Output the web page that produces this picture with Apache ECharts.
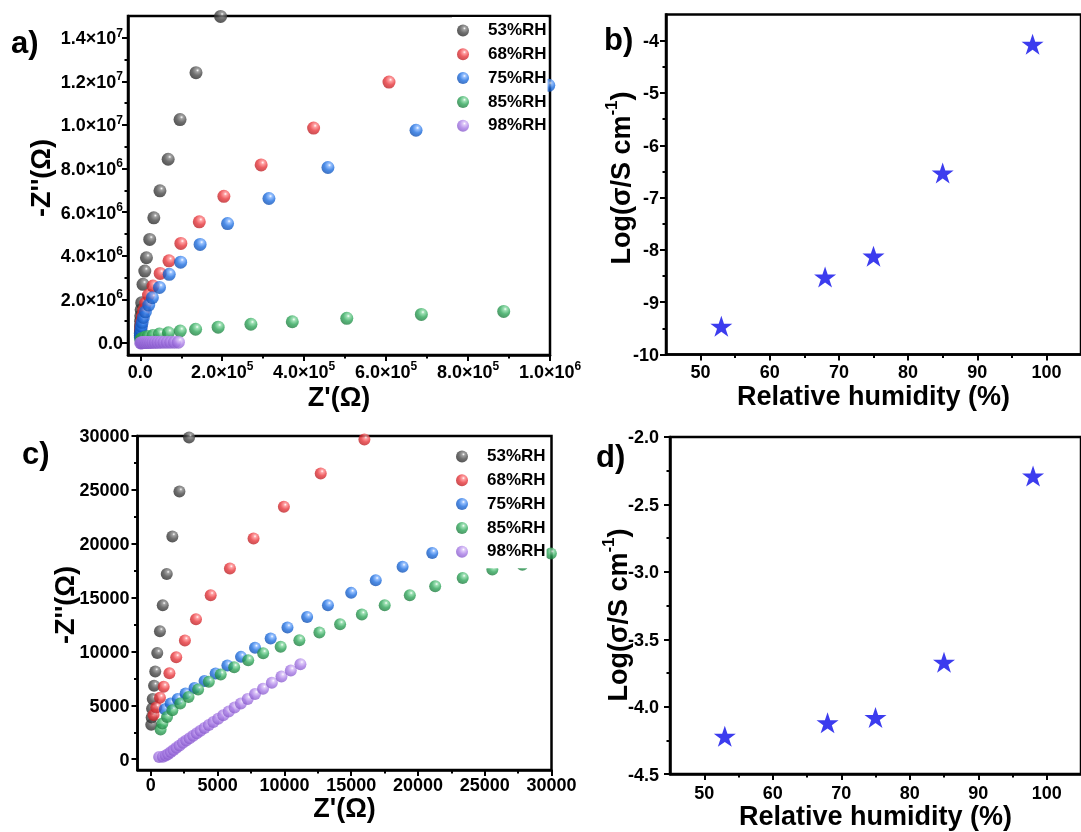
<!DOCTYPE html>
<html>
<head>
<meta charset="utf-8">
<script src="https://cdn.jsdelivr.net/npm/echarts@6.0.0/dist/echarts.min.js"></script>
<style>
  html, body { margin: 0; padding: 0; background: #ffffff; }
  #chart { width: 1081px; height: 832px; }
</style>
</head>
<body>
<div id="chart"></div>
<script>
// ---------- series names ----------
const rhNames = ['53%RH', '68%RH', '75%RH', '85%RH', '98%RH'];

// ---------- panel a: full Nyquist plots (Z', -Z'' in ohm) ----------
const a53X = [100, 200, 300, 500, 800, 1200, 2000, 3500, 6600, 11000, 15000, 23000, 33000, 48000, 68000, 97000, 136000, 196000];
const a53Y = [330000, 450000, 600000, 780000, 1000000, 1250000, 1520000, 1850000, 2690000, 3300000, 3910000, 4750000, 5740000, 6980000, 8430000, 10250000, 12400000, 14980000];

const a68X = [1000, 1800, 3000, 5000, 8000, 13000, 20000, 31000, 48500, 70000, 99000, 144000, 204000, 295000, 423000, 607000];
const a68Y = [590000, 770000, 980000, 1220000, 1500000, 1830000, 2200000, 2610000, 3190000, 3770000, 4570000, 5560000, 6730000, 8170000, 9860000, 11970000];

const a75X = [300, 500, 900, 1500, 2600, 4500, 7500, 12500, 20600, 29400, 46800, 70600, 98500, 146000, 213000, 314000, 458000, 673000, 997000];
const a75Y = [250000, 350000, 470000, 610000, 770000, 950000, 1170000, 1430000, 1740000, 2080000, 2550000, 3150000, 3710000, 4520000, 5480000, 6630000, 8050000, 9760000, 11820000];

const a85X = [1500, 3000, 6000, 11000, 19000, 31000, 46800, 68600, 97500, 135000, 190000, 270000, 371000, 504000, 686000, 887000];
const a85Y = [140000, 180000, 220000, 260000, 300000, 340000, 410000, 470000, 550000, 630000, 725000, 860000, 976000, 1130000, 1310000, 1450000];

const a98X = [1000, 3000, 5500, 8500, 12000, 16000, 20500, 25500, 31000, 37000, 43500, 50500, 58000, 66000, 74500, 83500, 93000];
const a98Y = [5000, 10000, 14000, 18000, 21000, 24000, 26000, 28000, 30000, 32000, 33000, 34000, 35000, 36000, 37000, 38000, 39000];

// ---------- panel c: high-frequency region (Z', -Z'' in ohm) ----------
const c53X = [30, 60, 90, 140, 240, 330, 480, 680, 890, 1190, 1610, 2140, 2860];
const c53Y = [3200, 3880, 4680, 5600, 6820, 8150, 9850, 11880, 14290, 17190, 20680, 24850, 29850];

const c68X = [200, 400, 680, 960, 1390, 1900, 2550, 3380, 4480, 5920, 7690, 9960, 12720, 15990];
const c68Y = [4100, 4800, 5700, 6720, 7970, 9460, 11030, 13000, 15230, 17710, 20490, 23430, 26530, 29680];

const c75X = [1050, 1480, 2010, 2600, 3270, 4020, 4850, 5730, 6750, 7800, 8970, 10230, 11700, 13260, 15000, 16840, 18850, 21070];
const c75Y = [4640, 5170, 5600, 6100, 6620, 7270, 7960, 8700, 9500, 10340, 11200, 12230, 13210, 14300, 15440, 16620, 17860, 19150];

const c85X = [730, 860, 1210, 1610, 2200, 2820, 3540, 4340, 5230, 6240, 7290, 8410, 9720, 11120, 12620, 14170, 15800, 17510, 19390, 21290, 23350, 25570, 27820, 29950];
const c85Y = [2760, 3310, 3930, 4550, 5170, 5780, 6470, 7180, 7860, 8540, 9190, 9840, 10430, 11050, 11760, 12530, 13430, 14300, 15230, 16060, 16830, 17610, 18050, 19100];

const c98X = [620, 900, 1120, 1300, 1500, 1700, 1920, 2150, 2400, 2650, 2900, 3170, 3440, 3720, 4020, 4340, 4680, 5040, 5420, 5830, 6270, 6740, 7250, 7800, 8400, 9060, 9780, 10480, 11200];
const c98Y = [200, 220, 340, 490, 670, 850, 1060, 1280, 1520, 1740, 1950, 2180, 2410, 2650, 2900, 3170, 3450, 3760, 4080, 4420, 4790, 5180, 5600, 6050, 6550, 7090, 7680, 8240, 8820];

// ---------- panels b and d: conductivity vs relative humidity ----------
const humidity = [53, 68, 75, 85, 98];
const logSigmaB = [-9.46, -8.52, -8.12, -6.53, -4.07];
const logSigmaD = [-4.22, -4.12, -4.08, -3.67, -2.29];

// ---------- tick values ----------
const aXMajor = [0, 200000, 400000, 600000, 800000, 1000000];
const aXMinor = [100000, 300000, 500000, 700000, 900000];
const aYMajor = [0, 2000000, 4000000, 6000000, 8000000, 10000000, 12000000, 14000000];
const aYMinor = [1000000, 3000000, 5000000, 7000000, 9000000, 11000000, 13000000];
const rhMajor = [50, 60, 70, 80, 90, 100];
const rhMinor = [55, 65, 75, 85, 95];
const bYMajor = [-10, -9, -8, -7, -6, -5, -4];
const bYMinor = [-9.5, -8.5, -7.5, -6.5, -5.5, -4.5];
const cMajor = [0, 5000, 10000, 15000, 20000, 25000, 30000];
const cMinor = [2500, 7500, 12500, 17500, 22500, 27500];
const dYMajor = [-4.5, -4.0, -3.5, -3.0, -2.5, -2.0];
const dYMinor = [-4.25, -3.75, -3.25, -2.75, -2.25];

// ---------- styling helpers ----------
const FONT = '"Liberation Sans", Arial, Helvetica, sans-serif';

function sphere(light, base, dark) {
  return {
    type: 'radial', x: 0.62, y: 0.32, r: 0.78,
    colorStops: [
      { offset: 0, color: '#ffffff' },
      { offset: 0.16, color: light },
      { offset: 0.5, color: base },
      { offset: 1, color: dark }
    ]
  };
}
const sphereColors = [
  sphere('#8a8a8a', '#4a4a4a', '#222222'),
  sphere('#ff8a8d', '#e8363b', '#b01c21'),
  sphere('#7fb2ff', '#1f6fe0', '#0b47a6'),
  sphere('#86d9a2', '#2fa65a', '#1b7339'),
  sphere('#d6bdf6', '#a97de6', '#7f52c4')
];

const tickRich = {
  m: { fontFamily: FONT, fontWeight: 'bold', fontSize: 18, color: '#000', lineHeight: 21, verticalAlign: 'bottom' },
  e: { fontFamily: FONT, fontWeight: 'bold', fontSize: 12, color: '#000', lineHeight: 21, verticalAlign: 'top' }
};

function sciLabel(v) {
  if (v === 0) return '{m|0.0}';
  const e = Math.floor(Math.log10(v) + 1e-9);
  const m = v / Math.pow(10, e);
  return '{m|' + m.toFixed(1) + '×10}{e|' + e + '}';
}

function axisPair(gridIndex, dim, min, max, majors, minors, formatter, margin, name, nameGap) {
  const position = dim === 'x' ? 'bottom' : 'left';
  const major = {
    type: 'value', gridIndex, min, max, position,
    splitLine: { show: false },
    axisLine: { show: true, onZero: false, lineStyle: { color: '#000', width: 2.5 } },
    axisTick: { show: true, inside: false, length: 6, lineStyle: { color: '#000', width: 2 }, customValues: majors },
    axisLabel: {
      show: true, customValues: majors, margin, formatter,
      color: '#000', fontFamily: FONT, fontWeight: 'bold', fontSize: 18, rich: tickRich
    }
  };
  if (name) {
    Object.assign(major, {
      name, nameLocation: 'middle', nameGap,
      nameTextStyle: { fontFamily: FONT, fontWeight: 'bold', fontSize: 27, color: '#000' }
    });
  }
  const minor = {
    type: 'value', gridIndex, min, max, position,
    splitLine: { show: false },
    axisLine: { show: false, onZero: false },
    axisLabel: { show: false },
    axisTick: { show: true, inside: false, length: 3.5, lineStyle: { color: '#000', width: 2 }, customValues: minors }
  };
  return [major, minor];
}

const plain = v => '{m|' + v + '}';
const oneDec = v => '{m|' + v.toFixed(1) + '}';

const xAxes = [].concat(
  axisPair(0, 'x', -30000, 1000000, aXMajor, aXMinor, sciLabel, 6, "Z'(Ω)", 30),
  axisPair(1, 'x', 45, 105, rhMajor, rhMinor, plain, 7, 'Relative humidity (%)', 30),
  axisPair(2, 'x', -1000, 30000, cMajor, cMinor, plain, 4, "Z'(Ω)", 25),
  axisPair(3, 'x', 45, 105, rhMajor, rhMinor, plain, 8, 'Relative humidity (%)', 26)
);
const yAxes = [].concat(
  axisPair(0, 'y', -550000, 15000000, aYMajor, aYMinor, sciLabel, 5),
  axisPair(1, 'y', -10, -3.5, bYMajor, bYMinor, plain, 7),
  axisPair(2, 'y', -1000, 30000, cMajor, cMinor, plain, 8),
  axisPair(3, 'y', -4.5, -2.0, dYMajor, dYMinor, oneDec, 11)
);

const zip = (xs, ys) => xs.map((x, i) => [x, ys[i]]);

const panelA = [[a53X, a53Y], [a68X, a68Y], [a75X, a75Y], [a85X, a85Y], [a98X, a98Y]];
const panelC = [[c53X, c53Y], [c68X, c68Y], [c75X, c75Y], [c85X, c85Y], [c98X, c98Y]];

function nyquistSeries(sets, axisIndex, size) {
  return sets.map((s, i) => ({
    name: rhNames[i], type: 'scatter',
    xAxisIndex: axisIndex, yAxisIndex: axisIndex,
    symbol: 'circle', symbolSize: size,
    itemStyle: { color: sphereColors[i] },
    data: zip(s[0], s[1]),
    z: 2 + i * 0.01
  }));
}

const STAR = 'path://M50,0 L61.8,35.1 L98.9,35.1 L69.1,57.3 L80.9,92.7 L50,70.8 L19.1,92.7 L30.9,57.3 L1.1,35.1 L38.2,35.1 Z';
function starSeries(values, axisIndex) {
  return {
    type: 'scatter', xAxisIndex: axisIndex, yAxisIndex: axisIndex,
    symbol: STAR, symbolSize: [22, 21],
    itemStyle: { color: '#0b0bea' },
    data: zip(humidity, values)
  };
}

// Legend box is opaque white, so marks running underneath it are hidden.
function legendAt(left, top) {
  return {
    orient: 'vertical', left, top,
    data: rhNames,
    icon: 'circle', itemWidth: 40, itemHeight: 12, itemGap: 6.8,
    padding: [5, 1, 8, 5],
    backgroundColor: '#ffffff',
    selectedMode: false,
    textStyle: { fontFamily: FONT, fontWeight: 'bold', fontSize: 17, color: '#000' }
  };
}

function panelTag(text, x, y) {
  return {
    type: 'text', x, y,
    style: { text, fontFamily: FONT, fontWeight: 'bold', fontSize: 31, fill: '#000', verticalAlign: 'middle', align: 'left' }
  };
}
function yTitle(x, y, text, rich) {
  return {
    type: 'text', x, y, rotation: Math.PI / 2,
    style: { text, rich, align: 'center', verticalAlign: 'middle', fill: '#000',
      fontFamily: FONT, fontWeight: 'bold', fontSize: 27 }
  };
}
const titleRich = {
  t: { fontFamily: FONT, fontWeight: 'bold', fontSize: 27, lineHeight: 32, verticalAlign: 'bottom', fill: '#000' },
  s: { fontFamily: FONT, fontWeight: 'bold', fontSize: 17, lineHeight: 32, verticalAlign: 'top', fill: '#000' }
};

const gridStyle = { show: true, borderColor: '#000', borderWidth: 2.5, backgroundColor: 'transparent' };

const option = {
  backgroundColor: '#ffffff',
  animation: false,
  grid: [
    Object.assign({ left: 128, top: 16, width: 422, height: 339 }, gridStyle),
    Object.assign({ left: 666, top: 14.5, width: 422.5, height: 340 }, gridStyle),
    Object.assign({ left: 137.5, top: 436, width: 414, height: 334 }, gridStyle),
    Object.assign({ left: 670, top: 437, width: 425.5, height: 342 }, gridStyle)
  ],
  xAxis: xAxes,
  yAxis: yAxes,
  legend: [legendAt(452, 17), legendAt(451, 443)],
  series: [].concat(
    nyquistSeries(panelA, 0, 13),
    nyquistSeries(panelC, 4, 12),
    [starSeries(logSigmaB, 2), starSeries(logSigmaD, 6)]
  ),
  graphic: [
    panelTag('a)', 11, 44),
    panelTag('b)', 604, 41),
    panelTag('c)', 22, 455),
    panelTag('d)', 596, 458),
    yTitle(40, 178, "{t|-Z''(Ω)}", titleRich),
    yTitle(620, 178, '{t|Log(σ/S cm}{s|-1}{t|)}', titleRich),
    yTitle(64, 605, "{t|-Z''(Ω)}", titleRich),
    yTitle(617, 615, '{t|Log(σ/S cm}{s|-1}{t|)}', titleRich)
  ]
};

const chart = echarts.init(document.getElementById('chart'), null, { renderer: 'canvas', width: 1081, height: 832 });
chart.setOption(option);
</script>
</body>
</html>
